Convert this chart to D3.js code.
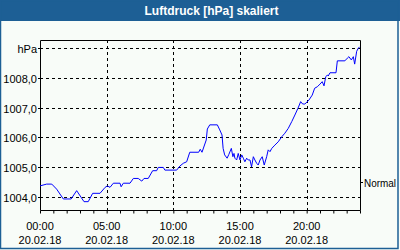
<!DOCTYPE html>
<html><head><meta charset="utf-8">
<script src="https://cdnjs.cloudflare.com/ajax/libs/d3/7.8.5/d3.min.js"></script>
<style>html,body{margin:0;padding:0;background:#fff;}svg{display:block;}</style>
</head><body><svg id="c" width="400" height="250"></svg>
<script>
const title = "Luftdruck [hPa] skaliert";
const dateLabel = "20.02.18";
const times = ["00:00","00:30","00:53","01:15","01:45","02:20","02:45","03:18","03:37","03:57","04:30","04:53","05:03","05:15","05:30","06:00","06:05","06:15","06:45","07:00","07:22","07:38","07:48","08:07","08:27","08:45","08:52","09:15","09:22","10:15","10:30","10:45","11:00","11:14","11:54","12:01","12:09","12:28","12:33","12:44","13:18","13:29","13:39","13:44","13:51","14:02","14:10","14:21","14:28","14:33","14:37","14:45","14:52","15:00","15:08","15:15","15:22","15:30","15:37","15:45","15:52","16:00","16:07","16:15","16:22","16:30","16:40","16:49","17:00","17:07","17:15","17:23","17:37","17:52","18:08","18:22","18:37","18:53","19:07","19:21","19:33","19:42","19:52","20:10","20:25","20:36","20:48","21:00","21:10","21:18","21:26","21:33","21:37","21:45","22:12","22:18","22:52","23:03","23:10","23:21","23:30","23:36","23:45","23:52","23:58"];
const values = [1004.37,1004.43,1004.43,1004.26,1003.93,1003.93,1004.21,1003.84,1003.84,1004.12,1004.12,1004.32,1004.37,1004.32,1004.46,1004.46,1004.34,1004.46,1004.46,1004.62,1004.62,1004.53,1004.62,1004.62,1004.88,1004.88,1004.99,1004.99,1004.90,1004.90,1005.04,1005.13,1005.18,1005.50,1005.50,1005.60,1005.50,1005.91,1006.28,1006.42,1006.42,1006.25,1006.08,1005.63,1005.41,1005.30,1005.43,1005.63,1005.35,1005.46,1005.30,1005.24,1005.46,1005.24,1005.41,1005.30,1005.18,1005.30,1005.24,1005.24,1005.01,1005.35,1005.24,1005.13,1005.07,1005.24,1005.35,1005.07,1005.35,1005.58,1005.52,1005.63,1005.74,1005.85,1006.02,1006.14,1006.30,1006.53,1006.75,1006.98,1007.20,1007.12,1007.12,1007.25,1007.42,1007.65,1007.70,1007.79,1007.87,1007.73,1008.04,1008.09,1008.06,1008.17,1008.17,1008.57,1008.57,1008.66,1008.71,1008.60,1008.71,1008.46,1008.89,1008.99,1009.04];
const yTicks = [1004,1005,1006,1007,1008];
const yTickLabels = ["1004,0","1005,0","1006,0","1007,0","1008,0"];
const unitLevel = 1009;
const unitLabel = "hPa";
const xTickTimes = ["00:00","05:00","10:00","15:00","20:00"];
const normalLevel = 1004.5;
const normalLabel = "Normal";

const parse = d3.timeParse("%Y-%m-%d %H:%M");
const day = "2018-02-20 ";
const data = times.map((t,i)=>({t:parse(day+t), v:values[i]}));

const svg = d3.select("#c");
const W=400,H=250, L=40,R=360,T=40,B=210;
const blue="#1d5f95", bg="#f8fcf8";
svg.append("rect").attr("x",0).attr("y",0).attr("width",W).attr("height",H).attr("fill",bg);
svg.append("rect").attr("x",0).attr("y",0).attr("width",W).attr("height",21).attr("fill",blue);
svg.append("rect").attr("x",0.5).attr("y",0.5).attr("width",397.5).attr("height",248).attr("fill","none").attr("stroke",blue).attr("stroke-width",1.5);
svg.append("text").attr("x",211.5).attr("y",14.5).attr("text-anchor","middle")
  .attr("font-family","Liberation Sans, Arial, sans-serif").attr("font-weight","bold").attr("font-size",12)
  .attr("fill","#fff").text(title);

const x = d3.scaleTime().domain([parse(day+"00:00"), d3.timeDay.offset(parse(day+"00:00"),1)]).range([L,R]);
const y = d3.scaleLinear().domain([1003.56,1009.27]).range([B,T]);

const font = "Liberation Sans, Arial, sans-serif";
const g = svg.append("g");
yTicks.concat([unitLevel]).forEach(v=>{
  g.append("line").attr("x1",L).attr("x2",R).attr("y1",Math.round(y(v))+0.5).attr("y2",Math.round(y(v))+0.5)
   .attr("stroke","#000").attr("stroke-dasharray","3,3");
});
xTickTimes.slice(1).forEach(t=>{
  const px=Math.round(x(parse(day+t)))+0.5;
  g.append("line").attr("x1",px).attr("x2",px).attr("y1",T).attr("y2",B).attr("stroke","#000").attr("stroke-dasharray","3,3");
});

const xAxis = d3.axisBottom(x).ticks(d3.timeHour.every(1)).tickSize(3).tickFormat("");
const xa = svg.append("g").attr("transform",`translate(0,${B+0.5})`).call(xAxis);
xa.select(".domain").remove();
xa.selectAll("line").attr("stroke","#000");

svg.append("path").attr("d",`M${L+0.5},${T+0.5}H${R+0.5}V${B+0.5}H${L+0.5}Z`).attr("fill","none").attr("stroke","#000");

const yl = svg.append("g").attr("font-family",font).attr("font-size",11).attr("fill","#000");
yTicks.forEach((v,i)=>{
  yl.append("text").attr("x",37).attr("y",Math.round(y(v))+4.5).attr("text-anchor","end").text(yTickLabels[i]);
});
yl.append("text").attr("x",37).attr("y",Math.round(y(unitLevel))+4.5).attr("text-anchor","end").text(unitLabel);
yTicks.concat([unitLevel]).forEach(v=>{
  svg.append("line").attr("x1",L-2).attr("x2",L).attr("y1",Math.round(y(v))+0.5).attr("y2",Math.round(y(v))+0.5).attr("stroke","#000");
});

svg.append("line").attr("x1",R).attr("x2",R+3).attr("y1",Math.round(y(normalLevel))+0.5).attr("y2",Math.round(y(normalLevel))+0.5).attr("stroke","#000");
yl.append("text").attr("x",R+4).attr("y",Math.round(y(normalLevel))+4.5).attr("text-anchor","start")
  .attr("textLength",32).attr("lengthAdjust","spacingAndGlyphs").text(normalLabel);

const fmt = d3.timeFormat("%H:%M");
xTickTimes.forEach(t=>{
  const d=parse(day+t);
  yl.append("text").attr("x",x(d)).attr("y",229.5).attr("text-anchor","middle").text(fmt(d));
  yl.append("text").attr("x",x(d)).attr("y",243.5).attr("text-anchor","middle").text(dateLabel);
});

svg.append("path").datum(data).attr("fill","none").attr("stroke","#0000ff").attr("stroke-width",1)
  .attr("d",d3.line().x(d=>x(d.t)).y(d=>y(d.v)));
</script></body></html>
